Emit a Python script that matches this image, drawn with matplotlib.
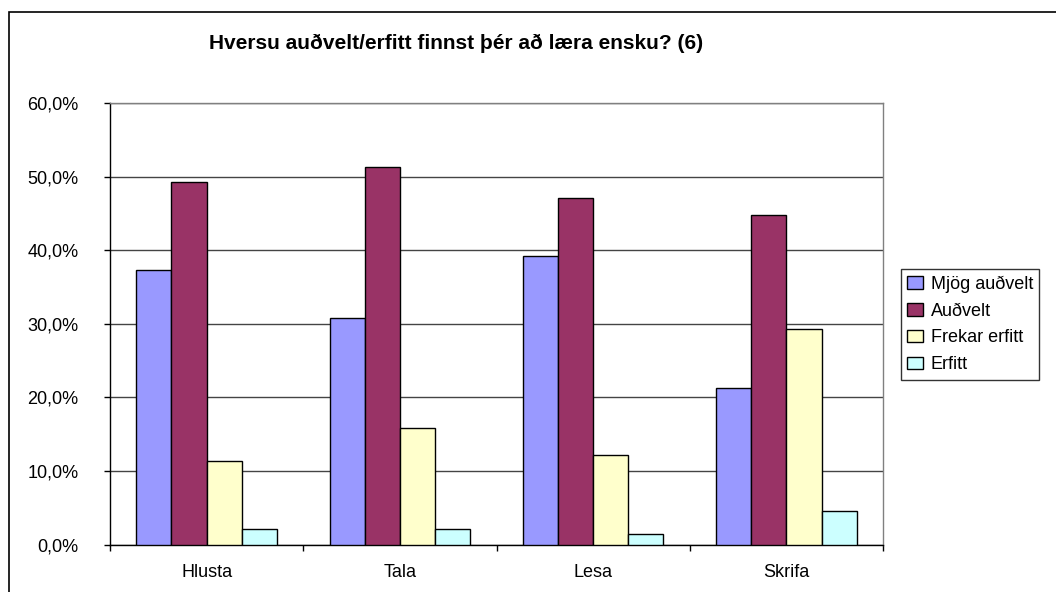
import matplotlib
matplotlib.use("Agg")
import matplotlib.pyplot as plt
from matplotlib.patches import Rectangle
from matplotlib.ticker import FuncFormatter, FixedLocator
import numpy as np

plt.rcParams['font.family'] = ['Liberation Sans', 'DejaVu Sans']

title = "Hversu auðvelt/erfitt finnst þér að læra ensku? (6)"
categories = ["Hlusta", "Tala", "Lesa", "Skrifa"]
series_names = ["Mjög auðvelt", "Auðvelt", "Frekar erfitt", "Erfitt"]
mjog_audvelt = [37.3, 30.8, 39.2, 21.3]
audvelt = [49.2, 51.3, 47.1, 44.8]
frekar_erfitt = [11.3, 15.9, 12.1, 29.3]
erfitt = [2.1, 2.1, 1.4, 4.6]
yticks = [0, 10, 20, 30, 40, 50, 60]
colors = ["#9999FF", "#993366", "#FFFFCC", "#CCFFFF"]

series = [mjog_audvelt, audvelt, frekar_erfitt, erfitt]

fig = plt.figure(figsize=(10.56, 5.92), dpi=100)
ax = fig.add_axes([110/1056, 1-544.5/592, (883-110)/1056, (544.5-103)/592])

n = len(series)
bw = 1/5.5
x = np.arange(len(categories)) + 0.5
handles = []
for i, (vals, col, name) in enumerate(zip(series, colors, series_names)):
    h = ax.bar(x + (i - (n-1)/2)*bw, vals, width=bw, color=col, edgecolor='black',
               linewidth=1.0, label=name, zorder=3)
    handles.append(h)

ax.set_xlim(0, len(categories))
ax.set_ylim(0, 60)
ax.set_yticks(yticks)
ax.yaxis.set_major_formatter(FuncFormatter(lambda v, p: f"{v:.1f}".replace('.', ',') + "%"))
ax.yaxis.grid(True, color='#444444', linewidth=1.0, zorder=0)
ax.set_axisbelow(True)

ax.set_xticks(x)
ax.set_xticklabels(categories)
ax.xaxis.set_minor_locator(FixedLocator(np.arange(len(categories)+1)))
ax.tick_params(axis='x', which='major', length=0, pad=14, labelsize=13)
ax.tick_params(axis='x', which='minor', length=4.5, width=1, direction='out', color='black')
ax.tick_params(axis='y', length=4.5, width=1, direction='out', pad=18, labelsize=13)

for s in ['left', 'bottom']:
    ax.spines[s].set_color('black')
    ax.spines[s].set_linewidth(1.0)
for s in ['right', 'top']:
    ax.spines[s].set_color('#808080')
    ax.spines[s].set_linewidth(1.0)

fig.text(456/1056, 1-43/592, title, ha='center', va='center', fontsize=15, fontweight='bold')

leg = fig.legend(handles=handles, labels=series_names, loc='upper left',
                 bbox_to_anchor=(901/1056, 1-269/592), borderaxespad=0,
                 fontsize=13, frameon=True, fancybox=False, edgecolor='black',
                 handlelength=0.85, handleheight=0.7, handletextpad=0.45,
                 labelspacing=0.55, borderpad=0.35)
leg.get_frame().set_linewidth(1.0)

frame = Rectangle((8.5/1056, -0.1), 1.2, 1.1 - 12/592, transform=fig.transFigure,
                  fill=False, edgecolor='black', linewidth=1.2)
fig.patches.append(frame)

fig.savefig("out.png", dpi=100)
